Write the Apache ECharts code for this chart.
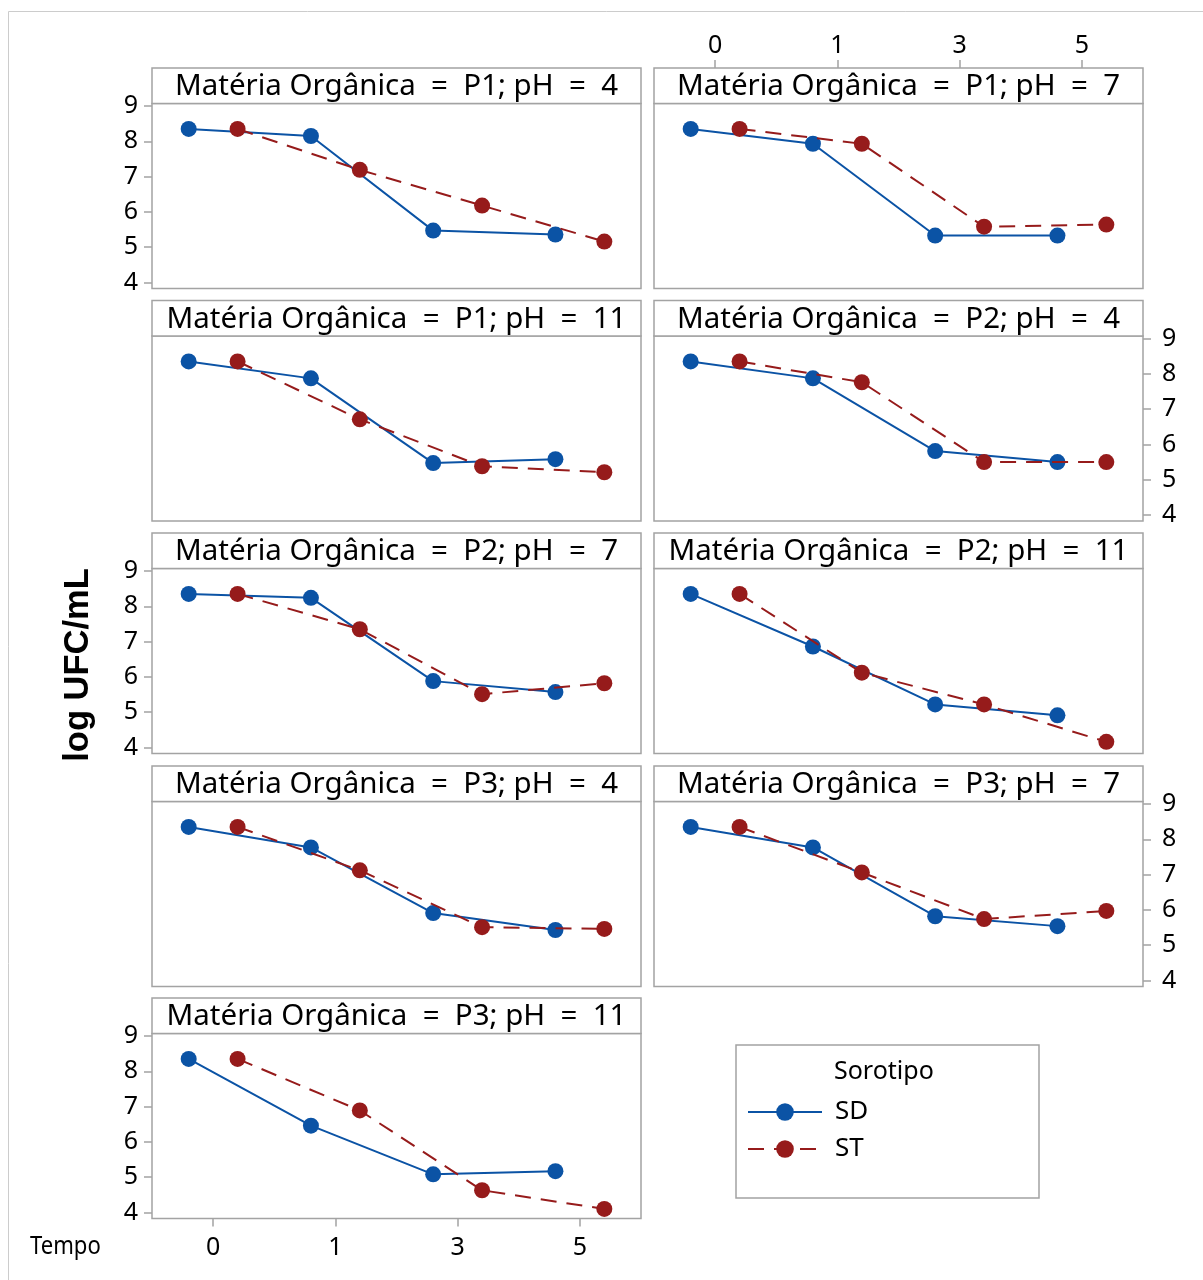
<!DOCTYPE html>
<html><head><meta charset="utf-8">
<script src="https://cdn.jsdelivr.net/npm/echarts@6/dist/echarts.min.js"></script>
<style>html,body{margin:0;padding:0;background:#fff}#c{width:1203px;height:1280px}</style>
</head><body><div id="c"></div>
<script>
// ---- data ----
const tempoLabels = ['0', '1', '3', '5'];
const yTickValues = [4, 5, 6, 7, 8, 9];
const seriesNames = ['SD', 'ST'];
const panelTitles = [
  'Matéria Orgânica  =  P1; pH  =  4',
  'Matéria Orgânica  =  P1; pH  =  7',
  'Matéria Orgânica  =  P1; pH  =  11',
  'Matéria Orgânica  =  P2; pH  =  4',
  'Matéria Orgânica  =  P2; pH  =  7',
  'Matéria Orgânica  =  P2; pH  =  11',
  'Matéria Orgânica  =  P3; pH  =  4',
  'Matéria Orgânica  =  P3; pH  =  7',
  'Matéria Orgânica  =  P3; pH  =  11'
];
const sd_P1_pH4  = [8.35, 8.15, 5.47, 5.36];
const st_P1_pH4  = [8.35, 7.19, 6.18, 5.16];
const sd_P1_pH7  = [8.35, 7.93, 5.33, 5.33];
const st_P1_pH7  = [8.35, 7.93, 5.58, 5.64];
const sd_P1_pH11 = [8.35, 7.87, 5.47, 5.58];
const st_P1_pH11 = [8.35, 6.71, 5.38, 5.21];
const sd_P2_pH4  = [8.35, 7.87, 5.81, 5.50];
const st_P2_pH4  = [8.35, 7.76, 5.50, 5.50];
const sd_P2_pH7  = [8.35, 8.24, 5.88, 5.57];
const st_P2_pH7  = [8.35, 7.35, 5.51, 5.82];
const sd_P2_pH11 = [8.35, 6.86, 5.22, 4.91];
const st_P2_pH11 = [8.35, 6.12, 5.22, 4.16];
const sd_P3_pH4  = [8.35, 7.77, 5.91, 5.43];
const st_P3_pH4  = [8.35, 7.12, 5.51, 5.46];
const sd_P3_pH7  = [8.35, 7.77, 5.82, 5.54];
const st_P3_pH7  = [8.35, 7.06, 5.74, 5.97];
const sd_P3_pH11 = [8.35, 6.46, 5.08, 5.17];
const st_P3_pH11 = [8.35, 6.89, 4.63, 4.10];

const sdPanels = [sd_P1_pH4, sd_P1_pH7, sd_P1_pH11, sd_P2_pH4, sd_P2_pH7, sd_P2_pH11, sd_P3_pH4, sd_P3_pH7, sd_P3_pH11];
const stPanels = [st_P1_pH4, st_P1_pH7, st_P1_pH11, st_P2_pH4, st_P2_pH7, st_P2_pH11, st_P3_pH4, st_P3_pH7, st_P3_pH11];

// ---- layout / style ----
const colLeft = [152, 654];
const rowTop = [103.5, 336, 568.5, 801.5, 1033.5];
const PW = 489, PH = 185, HH = 35.5;
const DODGE = 0.2;
const BLUE = '#0B53A5', RED = '#961B1B';
const BORDER = '#a3a3a3';
const FONT = '"Noto Sans", sans-serif';

const grids = [], xAxes = [], yAxes = [], series = [], graphics = [];

// outer frame
graphics.push({type: 'rect', shape: {x: 8.5, y: 11.5, width: 1400, height: 1400},
  style: {fill: null, stroke: '#cccccc', lineWidth: 1}, z: 0});

panelTitles.forEach((title, i) => {
  const r = Math.floor(i / 2), c = i % 2;
  const left = colLeft[c], top = rowTop[r];
  grids.push({left: left, top: top, width: PW, height: PH, show: true,
    borderColor: BORDER, borderWidth: 1.5, backgroundColor: '#fff', containLabel: false});

  const yLeft = (c === 0 && (r === 0 || r === 2 || r === 4));
  const yRight = (c === 1 && (r === 1 || r === 3));
  const yShow = yLeft || yRight;
  yAxes.push({gridIndex: i, type: 'value', min: 3.83, max: 9.07,
    position: yRight ? 'right' : 'left',
    axisLine: {show: false, onZero: false},
    splitLine: {show: false},
    axisTick: {show: yShow, length: 8, inside: false, customValues: yTickValues,
      lineStyle: {color: BORDER, width: 1.5}},
    axisLabel: {show: yShow, customValues: yTickValues, margin: yRight ? 19 : 14,
      fontSize: 25, color: '#000', fontFamily: FONT}
  });

  const xTop = (r === 0 && c === 1);
  const xBottom = (r === 4 && c === 0);
  const xShow = xTop || xBottom;
  xAxes.push({gridIndex: i, type: 'value', min: -0.5, max: 3.5,
    position: xTop ? 'top' : 'bottom', offset: xTop ? HH : 0,
    axisLine: {show: false, onZero: false},
    splitLine: {show: false},
    axisTick: {show: xShow, length: 8, customValues: [0, 1, 2, 3],
      lineStyle: {color: BORDER, width: 1.5}},
    axisLabel: {show: xShow, customValues: [0, 1, 2, 3], margin: xTop ? 10 : 17,
      formatter: v => tempoLabels[Math.round(v)],
      fontSize: 25, color: '#000', fontFamily: FONT}
  });

  series.push({
    name: seriesNames[0], type: 'line', xAxisIndex: i, yAxisIndex: i,
    data: sdPanels[i].map((v, k) => [k - DODGE, v]),
    symbol: 'circle', symbolSize: 16, color: BLUE,
    lineStyle: {color: BLUE, width: 2}, itemStyle: {color: BLUE},
    animation: false, z: 3
  });
  series.push({
    name: seriesNames[1], type: 'line', xAxisIndex: i, yAxisIndex: i,
    data: stPanels[i].map((v, k) => [k + DODGE, v]),
    symbol: 'circle', symbolSize: 16, color: RED,
    lineStyle: {color: RED, width: 2, type: [16, 10]}, itemStyle: {color: RED},
    animation: false, z: 4
  });

  // header strip
  graphics.push({type: 'rect', shape: {x: left, y: top - HH, width: PW, height: HH},
    style: {fill: '#fff', stroke: BORDER, lineWidth: 1.5}, z: 1});
  graphics.push({type: 'text', x: left + PW / 2, y: top - HH / 2 + 1, z: 2,
    style: {text: title, font: '29.5px ' + FONT, fill: '#000',
      textAlign: 'center', textVerticalAlign: 'middle', align: 'center', verticalAlign: 'middle'}});
});

// y axis title
graphics.push({type: 'text', x: 78, y: 665, rotation: Math.PI / 2, z: 2,
  style: {text: 'log UFC/mL', font: 'bold 34.5px "Liberation Sans", Arial, sans-serif', fill: '#000',
    textAlign: 'center', textVerticalAlign: 'middle', align: 'center', verticalAlign: 'middle'}});
// x axis title
graphics.push({type: 'text', x: 30, y: 1247, z: 2, scaleX: 0.85, originX: 0, originY: 0,
  style: {text: 'Tempo', font: '26px ' + FONT, fill: '#000',
    textAlign: 'left', textVerticalAlign: 'middle', align: 'left', verticalAlign: 'middle'}});
// legend box + title
graphics.push({type: 'rect', shape: {x: 736, y: 1045, width: 303, height: 153},
  style: {fill: '#fff', stroke: BORDER, lineWidth: 1.5}, z: 1});
graphics.push({type: 'text', x: 834, y: 1072, z: 2,
  style: {text: 'Sorotipo', font: '25px ' + FONT, fill: '#000',
    textAlign: 'left', textVerticalAlign: 'middle', align: 'left', verticalAlign: 'middle'}});

const chart = echarts.init(document.getElementById('c'), null, {renderer: 'canvas'});
chart.setOption({
  backgroundColor: '#fff',
  animation: false,
  grid: grids,
  xAxis: xAxes,
  yAxis: yAxes,
  series: series,
  graphic: {elements: graphics},
  legend: {
    data: seriesNames, orient: 'vertical', left: 747, top: 1099,
    itemWidth: 74, itemHeight: 22, itemGap: 11, padding: 0, z: 5,
    textStyle: {fontSize: 26, color: '#000', fontFamily: FONT, padding: [0, 0, 0, 8]}
  }
});
</script>
</body></html>
